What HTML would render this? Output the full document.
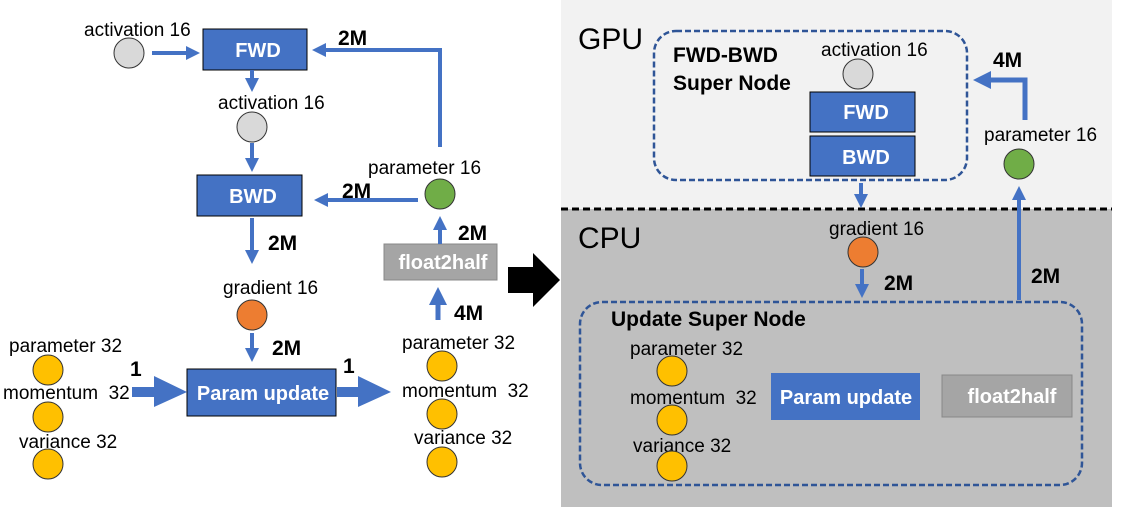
<!DOCTYPE html>
<html><head><meta charset="utf-8"><style>
html,body{margin:0;padding:0;background:#fff;}
svg{display:block;font-family:"Liberation Sans",Arial,sans-serif;}
.l{font-size:19px;fill:#000;}
.b{font-size:21px;font-weight:bold;fill:#000;}
.w{font-size:20px;font-weight:bold;fill:#fff;}
</style></head><body>
<svg width="1140" height="507" viewBox="0 0 1140 507" xmlns="http://www.w3.org/2000/svg">
<defs>
<marker id="ah" markerWidth="14" markerHeight="14" refX="10" refY="7" orient="auto" markerUnits="userSpaceOnUse">
<path d="M0,0 L14,7 L0,14 z" fill="#4472c4"/></marker>
<marker id="ahb" markerWidth="18" markerHeight="18" refX="13" refY="9" orient="auto" markerUnits="userSpaceOnUse">
<path d="M0,0 L18,9 L0,18 z" fill="#4472c4"/></marker>
</defs>
<rect x="561" y="0" width="551" height="209" fill="#f2f2f2"/>
<rect x="561" y="209" width="551" height="298" fill="#bfbfbf"/>
<line x1="561" y1="209" x2="1112" y2="209" stroke="#000" stroke-width="3" stroke-dasharray="7,4"/>

<!-- LEFT -->
<text class="l" x="84" y="36">activation 16</text>
<circle cx="129" cy="53" r="15" fill="#d9d9d9" stroke="#333"/>
<line x1="152" y1="53" x2="196" y2="53" stroke="#4472c4" stroke-width="4" marker-end="url(#ah)"/>
<rect x="203" y="29" width="104" height="41" fill="#4472c4" stroke="#000"/>
<text class="w" x="258" y="57" text-anchor="middle">FWD</text>
<line x1="252" y1="70" x2="252" y2="88" stroke="#4472c4" stroke-width="4" marker-end="url(#ah)"/>
<text class="l" x="218" y="109">activation 16</text>
<circle cx="252" cy="127" r="15" fill="#d9d9d9" stroke="#333"/>
<line x1="252" y1="143" x2="252" y2="168" stroke="#4472c4" stroke-width="4" marker-end="url(#ah)"/>
<rect x="197" y="175" width="105" height="41" fill="#4472c4" stroke="#000"/>
<text class="w" x="253" y="203" text-anchor="middle">BWD</text>

<text class="l" x="368" y="174">parameter 16</text>
<circle cx="440" cy="194" r="15" fill="#70ad47" stroke="#333"/>
<line x1="418" y1="200" x2="318" y2="200" stroke="#4472c4" stroke-width="4" marker-end="url(#ah)"/>
<text class="b" x="342" y="198">2M</text>
<polyline points="440,147 440,50 316,50" fill="none" stroke="#4472c4" stroke-width="4" marker-end="url(#ah)"/>
<text class="b" x="338" y="45">2M</text>
<rect x="384" y="244" width="113" height="36" fill="#a5a5a5" stroke="#888"/>
<text class="w" x="443" y="269" text-anchor="middle">float2half</text>
<line x1="440" y1="244" x2="440" y2="220" stroke="#4472c4" stroke-width="4" marker-end="url(#ah)"/>
<text class="b" x="458" y="240">2M</text>
<line x1="438" y1="320" x2="438" y2="292" stroke="#4472c4" stroke-width="5" marker-end="url(#ahb)"/>
<text class="b" x="454" y="320">4M</text>
<line x1="252" y1="218" x2="252" y2="260" stroke="#4472c4" stroke-width="4" marker-end="url(#ah)"/>
<text class="b" x="268" y="250">2M</text>
<text class="l" x="223" y="294">gradient 16</text>
<circle cx="252" cy="315" r="15" fill="#ed7d31" stroke="#333"/>
<line x1="252" y1="333" x2="252" y2="358" stroke="#4472c4" stroke-width="4" marker-end="url(#ah)"/>
<text class="b" x="272" y="355">2M</text>
<rect x="187" y="369" width="149" height="47" fill="#4472c4" stroke="#000"/>
<text class="w" x="263" y="400" text-anchor="middle">Param update</text>
<path d="M132,387 L154,387 L154,376 L187,392 L154,407 L154,397 L132,397 z" fill="#4472c4"/>
<path d="M337,387 L358,387 L358,376 L391,392 L358,407 L358,397 L337,397 z" fill="#4472c4"/>
<text class="b" x="130" y="376">1</text>
<text class="b" x="343" y="373">1</text>

<text class="l" x="9" y="352">parameter 32</text>
<circle cx="48" cy="370" r="15" fill="#ffc000" stroke="#333"/>
<text class="l" x="3" y="399">momentum&#160; 32</text>
<circle cx="48" cy="417" r="15" fill="#ffc000" stroke="#333"/>
<text class="l" x="19" y="448">variance 32</text>
<circle cx="48" cy="464" r="15" fill="#ffc000" stroke="#333"/>

<text class="l" x="402" y="349">parameter 32</text>
<circle cx="442" cy="366" r="15" fill="#ffc000" stroke="#333"/>
<text class="l" x="402" y="397">momentum&#160; 32</text>
<circle cx="442" cy="414" r="15" fill="#ffc000" stroke="#333"/>
<text class="l" x="414" y="444">variance 32</text>
<circle cx="442" cy="462" r="15" fill="#ffc000" stroke="#333"/>

<path d="M508,267 L533,267 L533,253 L560,280 L533,307 L533,293 L508,293 z" fill="#000"/>

<!-- RIGHT -->
<text x="578" y="49" font-size="30" fill="#000">GPU</text>
<text x="578" y="248" font-size="30" fill="#000">CPU</text>
<rect x="654" y="31" width="313" height="149" rx="22" fill="none" stroke="#2f5597" stroke-width="2.5" stroke-dasharray="6,3"/>
<text class="b" x="673" y="62">FWD-BWD</text>
<text class="b" x="673" y="90">Super Node</text>
<text class="l" x="821" y="56">activation 16</text>
<circle cx="858" cy="74" r="15" fill="#d9d9d9" stroke="#333"/>
<rect x="810" y="92" width="105" height="40" fill="#4472c4" stroke="#000"/>
<text class="w" x="866" y="119" text-anchor="middle">FWD</text>
<rect x="810" y="136" width="105" height="40" fill="#4472c4" stroke="#000"/>
<text class="w" x="866" y="164" text-anchor="middle">BWD</text>
<line x1="861" y1="183" x2="861" y2="204" stroke="#4472c4" stroke-width="4" marker-end="url(#ah)"/>
<text class="l" x="829" y="235">gradient 16</text>
<circle cx="863" cy="252" r="15" fill="#ed7d31" stroke="#333"/>
<line x1="862" y1="269" x2="862" y2="294" stroke="#4472c4" stroke-width="4" marker-end="url(#ah)"/>
<text class="b" x="884" y="290">2M</text>
<text class="l" x="984" y="141">parameter 16</text>
<circle cx="1019" cy="164" r="15" fill="#70ad47" stroke="#333"/>
<line x1="1019" y1="300" x2="1019" y2="190" stroke="#4472c4" stroke-width="4" marker-end="url(#ah)"/>
<text class="b" x="1031" y="283">2M</text>
<polyline points="1025,120 1025,80 978,80" fill="none" stroke="#4472c4" stroke-width="5" marker-end="url(#ahb)"/>
<text class="b" x="993" y="67">4M</text>

<rect x="580" y="302" width="502" height="183" rx="22" fill="none" stroke="#2f5597" stroke-width="2.5" stroke-dasharray="6,3"/>
<text class="b" x="611" y="326">Update Super Node</text>
<text class="l" x="630" y="355">parameter 32</text>
<circle cx="672" cy="371" r="15" fill="#ffc000" stroke="#333"/>
<text class="l" x="630" y="404">momentum&#160; 32</text>
<circle cx="672" cy="420" r="15" fill="#ffc000" stroke="#333"/>
<text class="l" x="633" y="452">variance 32</text>
<circle cx="672" cy="466" r="15" fill="#ffc000" stroke="#333"/>
<rect x="771" y="373" width="149" height="47" fill="#4472c4"/>
<text class="w" x="846" y="404" text-anchor="middle">Param update</text>
<rect x="942" y="375" width="130" height="42" fill="#a5a5a5" stroke="#888"/>
<text class="w" x="1012" y="403" text-anchor="middle">float2half</text>
</svg>
</body></html>
